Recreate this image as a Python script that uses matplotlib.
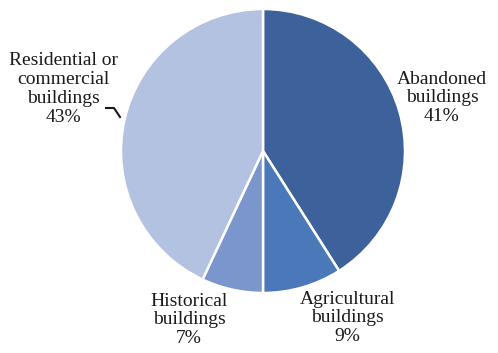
import matplotlib.pyplot as plt

# Building types, clockwise from 12 o'clock
categories = ["Abandoned\nbuildings", "Agricultural\nbuildings",
              "Historical\nbuildings", "Residential or\ncommercial\nbuildings"]
shares = [41, 9, 7, 43]
colors = ["#3d619a", "#4a78b8", "#7a96cc", "#b2c2e0"]

# Label anchor points (pixels, origin at bottom left)
label_xy = [(442, 255), (347, 35), (189, 33), (63, 264)]

W, H = 498, 353
fig = plt.figure(figsize=(W / 100, H / 100), dpi=100)
ax = fig.add_axes([0, 0, 1, 1])

ax.pie(shares, colors=colors, startangle=90, counterclock=False,
       center=(263, 202), radius=142, frame=True,
       wedgeprops=dict(edgecolor="white", linewidth=1.8))

for name, val, (x, y) in zip(categories, shares, label_xy):
    ax.text(x, y, f"{name}\n{val}%", ha="center", va="center",
            family="Liberation Serif", fontsize=14, color="#1a1a1a",
            linespacing=1.15)

# Leader line for the residential label
ax.plot([106, 114, 120], [245, 245, 236], color="#1a1a1a", lw=1.5)

ax.set_xlim(0, W)
ax.set_ylim(0, H)
ax.axis("off")

fig.savefig("out.png", dpi=100)
